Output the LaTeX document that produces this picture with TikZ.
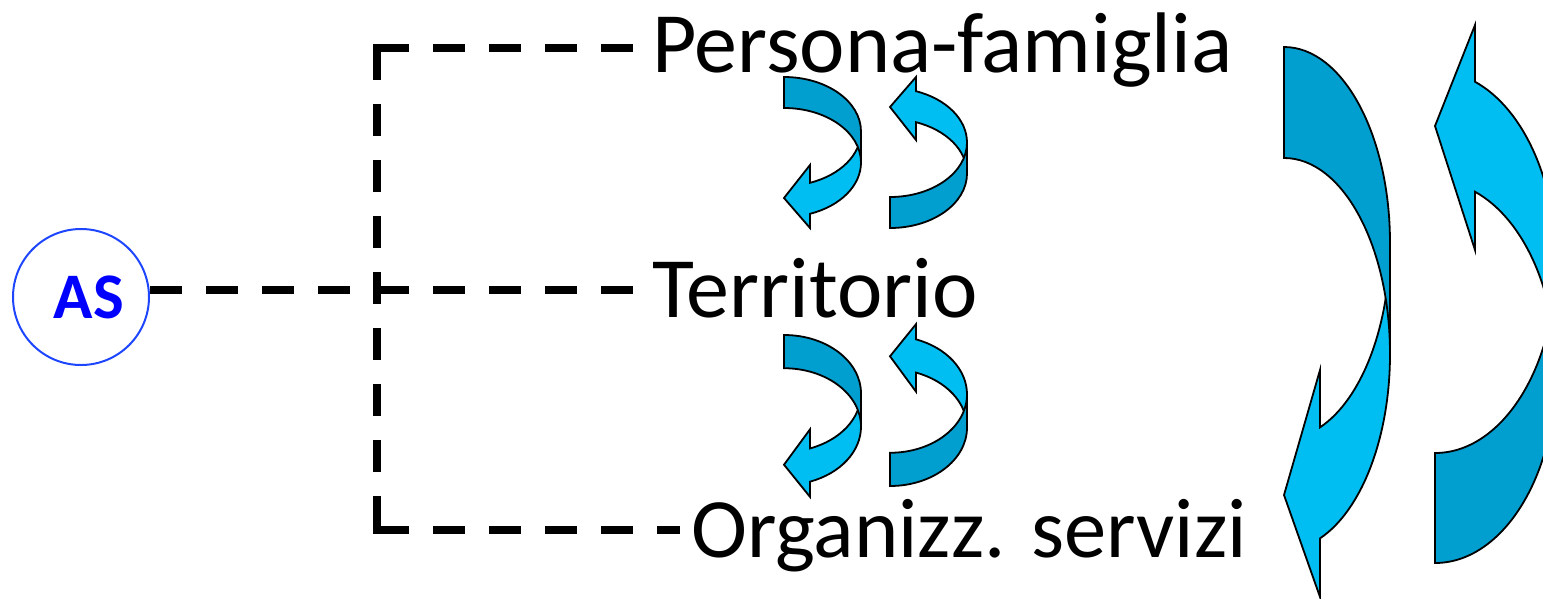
\documentclass[tikz,border=0pt]{standalone}
\usepackage{fontspec}
\setmainfont{Carlito}
\definecolor{lightb}{RGB}{0,190,242}
\definecolor{darkb}{RGB}{0,159,207}
\definecolor{ringblue}{RGB}{30,70,255}
\definecolor{asblue}{RGB}{0,0,255}
\tikzset{
  conn/.style={line width=8pt, dash pattern=on 32pt off 24pt},
  bracketdash/.style={line width=8pt, line join=miter,
    dash pattern=on 32pt off 24pt on 32pt off 24pt on 32pt off 24pt on 32pt off 24pt
      on 64pt off 24pt
      on 32pt off 24pt on 32pt off 24pt on 32pt off 24pt on 32pt off 24pt
      on 32pt off 24pt on 32pt off 24pt on 32pt off 24pt
      on 66pt off 24pt
      on 32pt off 24pt on 32pt off 24pt on 32pt off 24pt on 32pt off 24pt on 32pt off 24pt},
  lbl/.style={anchor=base west, inner sep=0pt, font=\fontsize{86}{90}\selectfont},
  ascircle/.style={circle, draw=ringblue, line width=2pt, minimum size=136pt,
    inner sep=0pt, text=asblue, font=\fontsize{65}{70}\selectfont\bfseries},
  ribdark/.style={fill=darkb, draw=black, line width=1.8pt, line join=miter},
  riblight/.style={fill=lightb, draw=black, line width=1.8pt, line join=miter},
}
% #1 rx, #2 ry, #3 band width, #4 neck dx, #5 notch, #6 tip, #7 barb (distances from tail top)
\newcommand\ribbonarrow[7]{%
  \pgfmathsetmacro\rbth{acos(#4/#1)}%
  \pgfmathsetmacro\rbout{#2+#3+#2*sin(\rbth)}%
  \path[riblight] (#1,-#2) arc[start angle=0,end angle=-\rbth,x radius=#1pt,y radius=#2pt]
    -- (#4,-#5) -- (0,-#6) -- (#4,-#7) -- (#4,-\rbout)
    arc[start angle=-\rbth,end angle=0,x radius=#1pt,y radius=#2pt] -- cycle;
  \path[ribdark] (0,0) arc[start angle=90,end angle=0,x radius=#1pt,y radius=#2pt]
    -- ++(0,-#3) arc[start angle=0,end angle=90,x radius=#1pt,y radius=#2pt] -- cycle;
}
\begin{document}
\begin{tikzpicture}[x=1pt,y=1pt]
\useasboundingbox (0,0) rectangle (1543,-598);
\clip (0,0) rectangle (1543,-598);

% AS circle
\node[ascircle] (as) at (81,-297) {\hspace*{16pt}AS};

% labels
\node[lbl] (pf) at (652,-72) {Persona-famiglia};
\node[lbl] (terr) at (652,-317) {Territorio};
\node[lbl, font=\fontsize{84.5}{90}\selectfont] (org) at (691,-557) {Organizz. servizi};

% connectors
\coordinate (j) at (377,-290);
\coordinate (tl) at (377,-48);
\coordinate (bl) at (377,-530);
\coordinate (te) at (633,-48);
\coordinate (me) at (633,-290);
\coordinate (be) at (680,-530);
\draw[bracketdash] (te) -- (tl) -- (bl) -- (be);
\draw[conn] (as.east |- j) -- (j);
\draw[conn] (j) -- (me);

% small arrows, top pair
\begin{scope}[shift={(784,-77)}]
  \ribbonarrow{77}{54.5}{31}{26}{88}{121}{151}
\end{scope}
\begin{scope}[shift={(890,-228)}, yscale=-1]
  \ribbonarrow{77}{54.5}{31}{26}{88}{121}{151}
\end{scope}
% small arrows, bottom pair
\begin{scope}[shift={(784,-335)}, yscale=1.072]
  \ribbonarrow{77}{54.5}{31}{26}{88}{121}{151}
\end{scope}
\begin{scope}[shift={(890,-486)}, yscale=-1.072]
  \ribbonarrow{77}{54.5}{31}{26}{88}{121}{151}
\end{scope}
% big arrows
\begin{scope}[shift={(1284,-47)}]
  \ribbonarrow{106}{196}{111}{36}{323}{448}{550}
\end{scope}
\begin{scope}[shift={(1435,-563)}, yscale=-1]
  \ribbonarrow{121}{191}{110}{40}{313}{437}{538}
\end{scope}
\end{tikzpicture}
\end{document}
